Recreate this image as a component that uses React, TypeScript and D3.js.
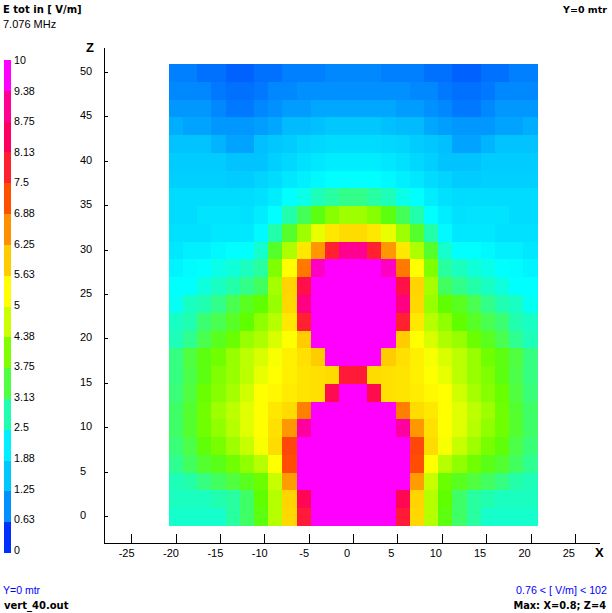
import React from "react";
import * as d3 from "d3";

// Half of each row, x = 0.8 ... mirrored around x = 0; rows from z = 50 down to z = 0, outermost cell first
const halfRows: number[][] = [
  [0.83,0.83,0.73,0.73,0.63,0.63,0.73,0.73,0.83,0.83,0.83,0.89,0.89],
  [0.89,0.89,0.89,0.78,0.73,0.73,0.78,0.89,0.89,0.94,0.94,0.94,0.94],
  [1.03,1.03,1.03,0.89,0.78,0.78,0.89,0.94,1.07,1.07,1.2,1.2,1.2],
  [1.27,1.15,1.15,1.03,1.03,1.03,1.11,1.2,1.43,1.43,1.47,1.56,1.56],
  [1.51,1.51,1.51,1.34,1.15,1.15,1.47,1.56,1.62,1.75,1.81,1.88,1.88],
  [1.62,1.62,1.62,1.62,1.51,1.51,1.51,1.68,1.81,1.94,2.06,2.13,2.13],
  [1.68,1.68,1.68,1.68,1.62,1.62,1.75,1.88,2.06,2.19,2.35,2.5,2.5],
  [1.88,1.88,1.88,1.88,1.88,1.88,1.94,2.13,2.5,2.59,2.78,2.9,3.03],
  [1.88,1.88,2.0,2.0,2.0,1.94,2.13,2.5,2.83,3.3,3.82,4.13,4.31],
  [1.94,1.94,1.94,2.06,2.06,2.06,2.4,2.85,3.6,4.31,5.03,5.59,5.74],
  [2.06,2.19,2.19,2.35,2.5,2.5,2.7,3.6,4.43,5.59,6.48,7.81,9.06],
  [2.27,2.44,2.5,2.59,2.65,2.75,2.9,4.06,5.31,6.8,9.35,10,10],
  [2.5,2.5,2.63,2.73,2.85,3.03,3.26,4.37,5.84,8.12,10,10,10],
  [2.55,2.73,2.81,3.03,3.35,3.7,3.95,4.25,5.79,8.85,10,10,10],
  [2.73,2.81,3.17,3.35,3.65,3.95,4.19,4.5,5.59,7.81,10,10,10],
  [2.78,2.99,3.35,3.72,3.98,4.25,4.43,4.84,5.31,5.94,10,10,10],
  [3.08,3.44,3.82,4.0,4.25,4.56,4.84,5.23,5.5,5.69,5.94,10,10],
  [3.08,3.39,3.82,4.06,4.25,4.56,5.03,5.31,5.5,5.64,5.69,5.74,7.9],
  [3.13,3.44,3.98,4.13,4.37,4.74,5.31,5.4,5.55,5.64,5.69,8.22,10],
  [3.22,3.57,4.0,4.31,4.56,4.93,5.31,5.59,5.74,6.72,10,10,10],
  [3.22,3.57,4.0,4.19,4.5,4.93,5.31,5.69,6.48,9.15,10,10,10],
  [3.13,3.39,3.89,4.03,4.31,4.66,5.23,5.74,7.31,10,10,10,10],
  [2.99,3.26,3.57,3.76,4.0,4.19,4.5,5.31,7.23,10,10,10,10],
  [2.78,2.85,3.08,3.26,3.44,3.7,3.98,4.66,6.43,10,10,10,10],
  [2.75,2.75,2.75,2.81,2.9,3.22,3.95,4.5,5.84,8.3,10,10,10],
  [2.7,2.7,2.7,2.7,2.9,3.22,3.82,4.5,5.79,7.9,10,10,10],
];
const zCenters = d3.range(50, -1, -2);
const xTicks = [-25, -20, -15, -10, -5, 0, 5, 10, 15, 20, 25];
const zTicks = [0, 5, 10, 15, 20, 25, 30, 35, 40, 45, 50];
const legendLabels = ["10","9.38","8.75","8.13","7.5","6.88","6.25","5.63","5","4.38","3.75","3.13","2.5","1.88","1.25","0.63","0"];
const legendColors = ["#ff00ff","#ff0090","#ff0060","#ff2030","#ff5000","#ff9000","#ffcc00","#ffff00","#ccff00","#80ff00","#50ff40","#20ffb0","#00f0ff","#00c8ff","#0090ff","#0030ff"];
const colorStops: [number, string][] = [
  [0,"#0000ff"],[0.31,"#0030ff"],[0.94,"#0090ff"],[1.56,"#00c8ff"],[2.19,"#00f0ff"],[2.5,"#00ffff"],
  [2.81,"#20ffb0"],[3.44,"#50ff40"],[3.95,"#60ff00"],[4.06,"#80ff00"],[4.69,"#ccff00"],[5.31,"#ffff00"],
  [5.94,"#ffcc00"],[6.56,"#ff9000"],[7.19,"#ff5000"],[7.81,"#ff2030"],[8.44,"#ff0060"],[9.06,"#ff0090"],[9.69,"#ff00ff"],[10,"#ff00ff"],
];

const color = d3.scaleLinear<string>()
  .domain(colorStops.map((d) => d[0]))
  .range(colorStops.map((d) => d[1]))
  .interpolate(d3.interpolateRgb)
  .clamp(true);

const xScale = d3.scaleLinear().domain([-25, 25]).range([131.125, 574.875]);
const zScale = d3.scaleLinear().domain([0, 50]).range([517, 73]);
const legendScale = d3.scaleLinear().domain([0, 16]).range([60, 553]);
const cellEdge = (x: number) => Math.round(xScale(x) + (x < 0 ? 0.3 : 0));

const FONT = "'Liberation Sans', Arial, sans-serif";
const BOLD = "'DejaVu Sans', Verdana, sans-serif";

export default function App() {
  const cells = halfRows.flatMap((half, r) => {
    const full = [...half, ...[...half].reverse()];
    const z = zCenters[r];
    return full.map((v, c) => {
      const x0 = cellEdge(-20.8 + c * 1.6);
      const x1 = cellEdge(-20.8 + (c + 1) * 1.6);
      const y0 = Math.round(zScale(z + 1));
      const y1 = Math.round(zScale(z - 1));
      return <rect key={`${r}-${c}`} x={x0} y={y0} width={x1 - x0} height={y1 - y0} fill={color(v)} />;
    });
  });

  return (
    <svg width={612} height={613} style={{ position: "absolute", left: 0, top: 0, background: "#fff" }} fontFamily={FONT} fontSize={11} fill="#000">
      <g shapeRendering="crispEdges">{cells}</g>

      {/* colour legend */}
      <g shapeRendering="crispEdges">
        {legendColors.map((c, i) => (
          <rect key={c} x={4} width={7} y={Math.round(legendScale(i))} height={Math.round(legendScale(i + 1)) - Math.round(legendScale(i))} fill={c} />
        ))}
      </g>
      {legendLabels.map((t, i) => (
        <text key={t} x={14} y={60 + i * 30.62 + 4} fontSize={10.7}>{t}</text>
      ))}

      {/* axes */}
      <g stroke="#000" strokeWidth={1} shapeRendering="crispEdges">
        <line x1={104.5} x2={104.5} y1={48} y2={543.5} />
        <line x1={104} x2={600} y1={543.5} y2={543.5} />
        {xTicks.map((t) => (
          <line key={t} x1={Math.round(xScale(t)) + 0.5} x2={Math.round(xScale(t)) + 0.5} y1={534} y2={543} />
        ))}
        {zTicks.map((t) => (
          <line key={t} x1={105} x2={108} y1={Math.round(zScale(t)) - 0.5} y2={Math.round(zScale(t)) - 0.5} />
        ))}
      </g>
      {xTicks.map((t) => (
        <text key={t} x={xScale(t) + (t < 0 ? -4.5 : -6)} y={557} textAnchor="middle">{t}</text>
      ))}
      {zTicks.map((t) => (
        <text key={t} x={80} y={zScale(t) + 2}>{t}</text>
      ))}
      <text x={86} y={52} fontSize={13} fontWeight="bold" fontFamily={FONT}>Z</text>
      <text x={595} y={557} fontSize={13} fontWeight="bold" fontFamily={FONT}>X</text>

      {/* titles */}
      <text x={3} y={13} fontSize={10} fontWeight="bold" fontFamily={BOLD}>E tot in [ V/m]</text>
      <text x={3} y={28} fontSize={11}>7.076 MHz</text>
      <text x={607} y={13} fontSize={9.5} fontWeight="bold" fontFamily={BOLD} textAnchor="end">Y=0 mtr</text>
      <text x={3} y={594} fontSize={10.5} fill="#0000ff">Y=0 mtr</text>
      <text x={4} y={609} fontSize={10} fontWeight="bold" fontFamily={BOLD}>vert_40.out</text>
      <text x={607} y={594} fontSize={10.7} fill="#0000ff" textAnchor="end">0.76 &lt; [ V/m] &lt; 102</text>
      <text x={606} y={609} fontSize={9.8} fontWeight="bold" fontFamily={BOLD} textAnchor="end">Max: X=0.8; Z=4</text>
    </svg>
  );
}
